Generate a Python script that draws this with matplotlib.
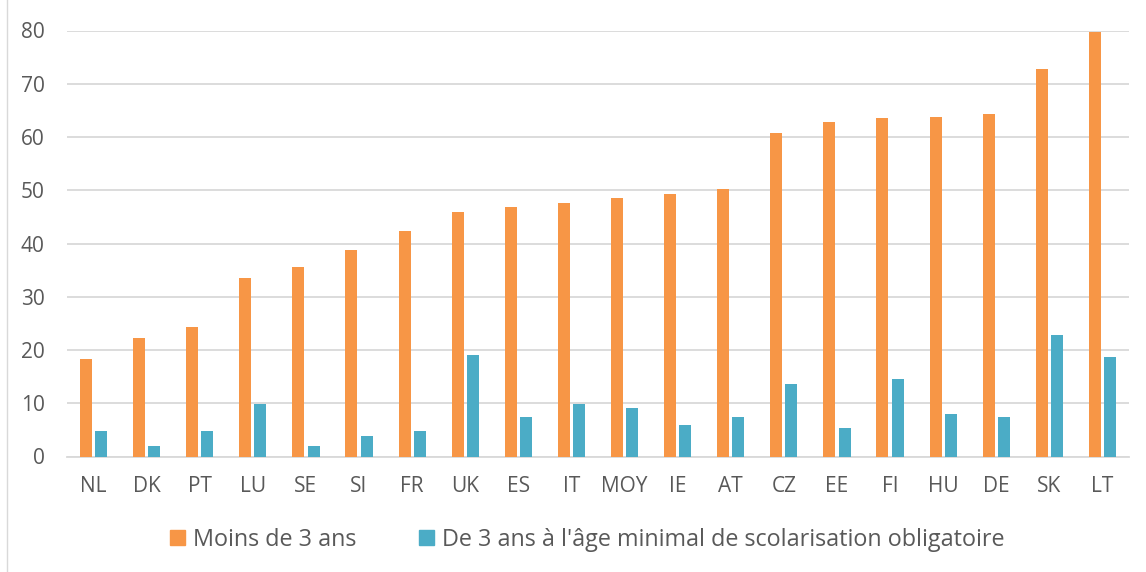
import matplotlib
matplotlib.use("Agg")
import matplotlib.pyplot as plt
import numpy as np
from matplotlib.patches import Rectangle, Patch

categories = ["NL", "DK", "PT", "LU", "SE", "SI", "FR", "UK", "ES", "IT", "MOY",
              "IE", "AT", "CZ", "EE", "FI", "HU", "DE", "SK", "LT"]
moins_3_ans = [18.4, 22.3, 24.3, 33.6, 35.5, 38.8, 42.3, 45.9, 46.9, 47.6, 48.5,
               49.3, 50.2, 60.7, 62.8, 63.6, 63.8, 64.4, 72.8, 79.8]
de_3_ans = [4.8, 2.0, 4.7, 9.8, 2.0, 3.8, 4.8, 19.1, 7.4, 9.9, 9.1,
            6.0, 7.5, 13.6, 5.3, 14.6, 8.0, 7.5, 22.9, 18.6]
yticks = [0, 10, 20, 30, 40, 50, 60, 70, 80]
series_labels = ["Moins de 3 ans", "De 3 ans à l'âge minimal de scolarisation obligatoire"]

orange = "#F79646"
teal = "#4BACC6"
txt = "#595959"
grid = "#D9D9D9"

plt.rcParams['font.family'] = ['Open Sans', 'DejaVu Sans']

W, H = 1146, 572
fig = plt.figure(figsize=(W / 100, H / 100), dpi=100)
ax = fig.add_axes([67 / W, 1 - 456.5 / H, (1129 - 67) / W, (456.5 - 30.5) / H])

x = np.arange(len(categories))
bw = 0.225
off = 0.143
ax.bar(x - off, moins_3_ans, bw, color=orange, zorder=3)
ax.bar(x + off, de_3_ans, bw, color=teal, zorder=3)

ax.set_xlim(-0.5, len(categories) - 0.5)
ax.set_ylim(0, 80)
ax.set_yticks(yticks)
ax.set_yticklabels([str(v) for v in yticks])
ax.set_xticks(x)
ax.set_xticklabels(categories)
ax.grid(axis='y', color=grid, linewidth=1.3, zorder=0)
for s in ["top", "right", "left"]:
    ax.spines[s].set_visible(False)
ax.spines["bottom"].set_color(grid)
ax.spines["bottom"].set_linewidth(1.3)
ax.tick_params(axis='both', length=0, colors=txt, labelsize=15)
ax.tick_params(axis='y', pad=16)
ax.tick_params(axis='x', pad=14)

handles = [Patch(color=orange), Patch(color=teal)]
fig.legend(handles, series_labels, loc='center', bbox_to_anchor=(587.5 / W, 1 - 540 / H),
           ncol=2, frameon=False, fontsize=16.8, labelcolor=txt,
           handlelength=0.64, handleheight=0.62, handletextpad=0.34, columnspacing=2.7)

fig.patches.append(Rectangle((7 / W, -0.1), 1.2, 1.2, transform=fig.transFigure,
                             fill=False, edgecolor="#D9D9D9", linewidth=1))

fig.savefig("out.png", dpi=100, facecolor="white")
